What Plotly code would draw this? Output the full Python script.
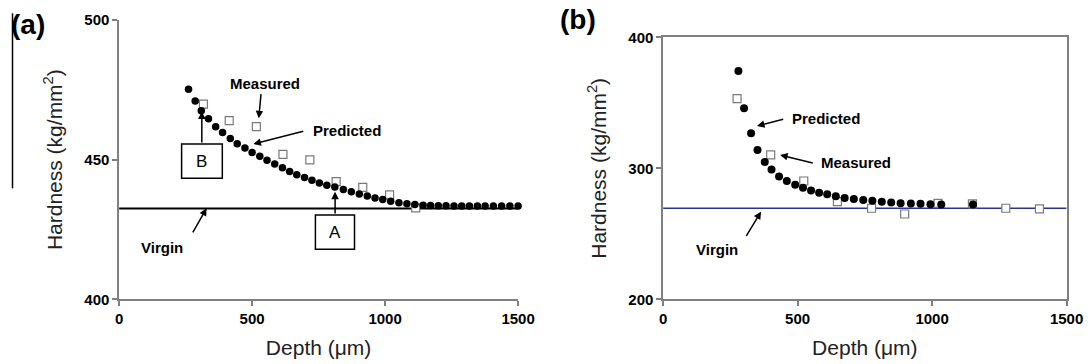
import plotly.graph_objects as go

# ---------------- data ----------------
# Panel (a)
pred_a_x = [261, 286, 309, 336, 363, 389, 418, 444, 473, 500, 529, 556, 585, 614, 641, 668,
            697, 725, 753, 781, 811, 843, 873, 903, 933, 962, 991, 1021, 1052, 1082, 1112,
            1143, 1171, 1200, 1229, 1259, 1288, 1317, 1347, 1376, 1407, 1438, 1469, 1500]
pred_a_y = [475.2, 471.0, 467.5, 464.6, 461.8, 459.7, 457.6, 455.7, 454.2, 452.6, 451.2, 449.8,
            448.4, 447.1, 445.8, 444.6, 443.6, 442.6, 441.6, 440.8, 440.2, 439.3, 438.5, 437.7,
            437.0, 436.3, 435.7, 435.1, 434.6, 434.2, 433.9, 433.7, 433.6, 433.5, 433.5, 433.4,
            433.4, 433.4, 433.4, 433.4, 433.4, 433.4, 433.4, 433.4]
meas_a_x = [317, 414, 516, 616, 717, 816, 916, 1017, 1115]
meas_a_y = [469.9, 464.0, 461.8, 451.9, 449.9, 442.1, 440.1, 437.4, 432.7]
virgin_a_x = [0, 1500]
virgin_a_y = [432.5, 432.5]

# Panel (b)
pred_b_x = [280, 301, 327, 351, 378, 403, 431, 460, 491, 520, 550, 580, 610, 642, 675, 709,
            744, 778, 813, 848, 883, 921, 957, 994, 1034, 1152]
pred_b_y = [374.3, 345.8, 326.7, 314.0, 304.9, 299.0, 293.8, 290.4, 287.5, 285.2, 283.0, 281.4,
            280.2, 278.6, 277.3, 276.6, 275.8, 275.2, 274.4, 273.9, 273.4, 273.1, 272.9, 272.6,
            272.4, 272.4]
meas_b_x = [275, 400, 523, 648, 775, 898, 1022, 1150, 1274, 1399]
meas_b_y = [353.2, 310.2, 290.3, 274.6, 269.5, 265.1, 273.3, 272.8, 269.5, 269.0]
virgin_b_x = [0, 1500]
virgin_b_y = [269.5, 269.5]

x_ticks = [0, 500, 1000, 1500]
y_ticks_a = [400, 450, 500]
y_ticks_b = [200, 300, 400]

FONT = "Liberation Sans, Arial, sans-serif"
W, H = 1088, 364

fig = go.Figure()

# panel (a)
fig.add_trace(go.Scatter(x=virgin_a_x, y=virgin_a_y, mode="lines",
                         line=dict(color="black", width=2), xaxis="x", yaxis="y"))
fig.add_trace(go.Scatter(x=meas_a_x, y=meas_a_y, mode="markers", cliponaxis=False,
                         marker=dict(symbol="square", size=8, color="white",
                                     line=dict(color="#7a7a7a", width=1.2)),
                         xaxis="x", yaxis="y"))
fig.add_trace(go.Scatter(x=pred_a_x, y=pred_a_y, mode="markers", cliponaxis=False,
                         marker=dict(symbol="circle", size=7.5, color="black"),
                         xaxis="x", yaxis="y"))

# panel (b)
fig.add_trace(go.Scatter(x=virgin_b_x, y=virgin_b_y, mode="lines",
                         line=dict(color="#2a3399", width=1.6), xaxis="x2", yaxis="y2"))
fig.add_trace(go.Scatter(x=meas_b_x, y=meas_b_y, mode="markers", cliponaxis=False,
                         marker=dict(symbol="square", size=8, color="white",
                                     line=dict(color="#7a7a7a", width=1.2)),
                         xaxis="x2", yaxis="y2"))
fig.add_trace(go.Scatter(x=pred_b_x, y=pred_b_y, mode="markers", cliponaxis=False,
                         marker=dict(symbol="circle", size=8, color="black"),
                         xaxis="x2", yaxis="y2"))

tickfont = dict(family=FONT, size=15, color="black", weight="bold")
titlefont = dict(family=FONT, size=21, color="#222222")

common_x = dict(range=[0, 1500], tickvals=x_ticks, showline=True, linecolor="#808080",
                linewidth=1.5, ticks="outside", ticklen=5, tickcolor="#808080", tickwidth=1.5,
                showgrid=False, zeroline=False, tickfont=tickfont, automargin=False)
common_y = dict(showline=True, linecolor="#808080", linewidth=1.5, ticks="outside",
                ticklen=5, tickcolor="#808080", tickwidth=1.5, showgrid=False,
                zeroline=False, tickfont=tickfont, automargin=False)

fig.update_layout(
    width=W, height=H, margin=dict(l=0, r=0, t=0, b=0, autoexpand=False),
    paper_bgcolor="white", plot_bgcolor="white", showlegend=False,
    xaxis=dict(domain=[119.1 / W, 518.1 / W], anchor="y",
               title=dict(text="Depth (μm)", font=titlefont, standoff=14), **common_x),
    yaxis=dict(domain=[(H - 299.3) / H, (H - 20) / H], anchor="x", range=[400, 500],
               tickvals=y_ticks_a,
               title=dict(text="Hardness (kg/mm<sup>2</sup>)", font=titlefont, standoff=16),
               **common_y),
    xaxis2=dict(domain=[663.1 / W, 1066.6 / W], anchor="y2", mirror=True,
                title=dict(text="Depth (μm)", font=titlefont, standoff=14), **common_x),
    yaxis2=dict(domain=[(H - 299.3) / H, (H - 37.3) / H], anchor="x2", range=[200, 400],
                tickvals=y_ticks_b, mirror=True,
                title=dict(text="Hardness (kg/mm<sup>2</sup>)", font=titlefont, standoff=16),
                **common_y),
)

lblfont = dict(family=FONT, size=15, color="black", weight="bold")

def label(text, x, y, xr, yr):
    fig.add_annotation(text=text, x=x, y=y, xref=xr, yref=yr, showarrow=False,
                       font=lblfont, xanchor="center", yanchor="middle")

def arrow(x0, y0, x1, y1, xr, yr):
    fig.add_annotation(text="", x=x1, y=y1, ax=x0, ay=y0, xref=xr, yref=yr,
                       axref=xr, ayref=yr, showarrow=True, arrowhead=2, arrowsize=1,
                       arrowwidth=1.5, arrowcolor="black", standoff=0, startstandoff=0)

# panel (a) annotations
label("Measured", 547, 477.1, "x", "y")
arrow(534, 474.0, 525, 464.8, "x", "y")
label("Predicted", 858, 460.3, "x", "y")
arrow(698, 460.3, 505, 455.6, "x", "y")
label("Virgin", 163, 418.6, "x", "y")
arrow(274, 423.4, 329, 432.6, "x", "y")

# boxes A and B
fig.add_shape(type="rect", x0=235, x1=388, y0=443.3, y1=455.6, xref="x", yref="y",
              line=dict(color="black", width=1.5), fillcolor="white", layer="above")
fig.add_annotation(text="B", x=311, y=449.4, xref="x", yref="y", showarrow=False,
                   font=dict(family=FONT, size=17, color="black"))
arrow(311, 455.6, 311, 467.2, "x", "y")
fig.add_shape(type="rect", x0=738, x1=885, y0=417.9, y1=430.2, xref="x", yref="y",
              line=dict(color="black", width=1.5), fillcolor="white", layer="above")
fig.add_annotation(text="A", x=812, y=424.0, xref="x", yref="y", showarrow=False,
                   font=dict(family=FONT, size=17, color="black"))
arrow(812, 430.2, 812, 438.5, "x", "y")

# panel (b) annotations
label("Predicted", 607, 337.9, "x2", "y2")
arrow(452, 337.7, 349, 332.3, "x2", "y2")
label("Measured", 716, 304.6, "x2", "y2")
arrow(562, 303.8, 435, 310.2, "x2", "y2")
label("Virgin", 199, 238.2, "x2", "y2")
arrow(306, 247.3, 364, 266.9, "x2", "y2")

# panel letters
fig.add_annotation(text="(a)", x=28 / W, y=1 - 25 / H, xref="paper", yref="paper",
                   showarrow=False, xanchor="center", yanchor="middle",
                   font=dict(family=FONT, size=28, color="black", weight="bold"))
fig.add_annotation(text="(b)", x=578 / W, y=1 - 19 / H, xref="paper", yref="paper",
                   showarrow=False, xanchor="center", yanchor="middle",
                   font=dict(family=FONT, size=28, color="black", weight="bold"))

# vertical rule at the far left of the figure
fig.add_shape(type="line", x0=12.5 / W, x1=12.5 / W, y0=1 - 13.3 / H, y1=1 - 188.3 / H,
              xref="paper", yref="paper", line=dict(color="black", width=1.5))

fig.write_html("out.html", config={"displayModeBar": False},
               post_script="document.body.style.margin='0';document.body.style.overflow='hidden';")
